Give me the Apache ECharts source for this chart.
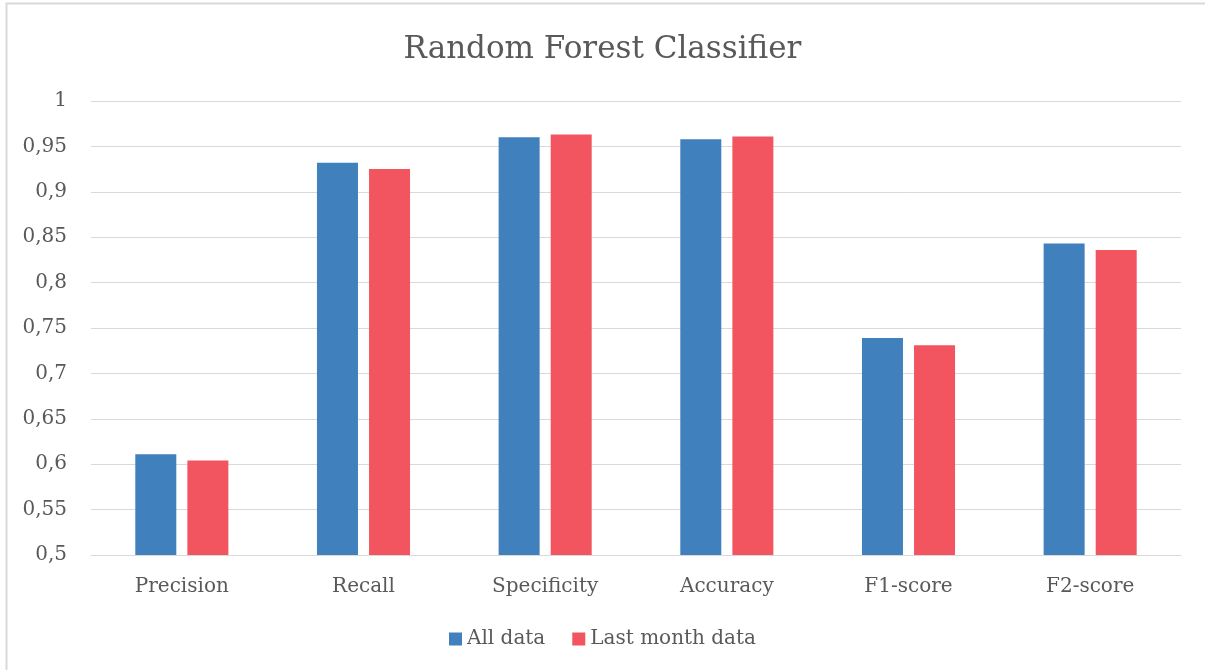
<!DOCTYPE html>
<html>
<head>
<meta charset="utf-8">
<script src="https://cdn.jsdelivr.net/npm/echarts@6/dist/echarts.min.js"></script>
<style>
  html, body { margin: 0; padding: 0; background: #fff; }
  #main { width: 1205px; height: 670px; }
</style>
</head>
<body>
<div id="main"></div>
<script>
var categories = ['Precision', 'Recall', 'Specificity', 'Accuracy', 'F1-score', 'F2-score'];
var allData = [0.611, 0.932, 0.960, 0.958, 0.739, 0.843];
var lastMonthData = [0.604, 0.925, 0.963, 0.961, 0.731, 0.836];
var seriesNames = ['All data', 'Last month data'];

var fontFamily = 'DejaVu Serif';
var textColor = '#595959';

var myChart = echarts.init(document.getElementById('main'));
var option = {
  backgroundColor: '#fff',
  animation: false,
  textStyle: { fontFamily: fontFamily },
  title: {
    text: 'Random Forest Classifier',
    left: 'center',
    top: 29,
    textStyle: { fontFamily: fontFamily, fontSize: 31, fontWeight: 'normal', color: textColor }
  },
  graphic: [{
    type: 'rect',
    shape: { x: 6.5, y: 3.5, width: 1300, height: 800 },
    style: { fill: 'none', stroke: '#d9d9d9', lineWidth: 2 },
    silent: true
  }],
  legend: {
    data: seriesNames,
    bottom: 16,
    left: 'center',
    itemWidth: 13,
    itemHeight: 13,
    itemGap: 27,
    icon: 'rect',
    textStyle: { fontFamily: fontFamily, fontSize: 20, color: textColor }
  },
  grid: { left: 91, right: 24, top: 101, bottom: 115 },
  xAxis: {
    type: 'category',
    data: categories,
    axisLine: { lineStyle: { color: '#d9d9d9', width: 1 } },
    axisTick: { show: false },
    axisLabel: { fontFamily: fontFamily, fontSize: 20, color: textColor, margin: 22 }
  },
  yAxis: {
    type: 'value',
    min: 0.5,
    max: 1,
    interval: 0.05,
    axisLine: { show: false },
    axisTick: { show: false },
    splitLine: { lineStyle: { color: '#d9d9d9', width: 1 } },
    axisLabel: {
      fontFamily: fontFamily, fontSize: 20, color: textColor, margin: 24,
      formatter: function (v) {
        return String(Math.round(v * 100) / 100).replace('.', ',');
      }
    }
  },
  series: [{
    name: seriesNames[0],
    type: 'bar',
    data: allData,
    barWidth: 41,
    barGap: '27%',
    itemStyle: { color: '#4080bd' }
  }, {
    name: seriesNames[1],
    type: 'bar',
    data: lastMonthData,
    barWidth: 41,
    itemStyle: { color: '#f2555f' }
  }]
};
myChart.setOption(option);
window.onresize = function () {
  myChart.resize();
};
</script>
</body>
</html>
